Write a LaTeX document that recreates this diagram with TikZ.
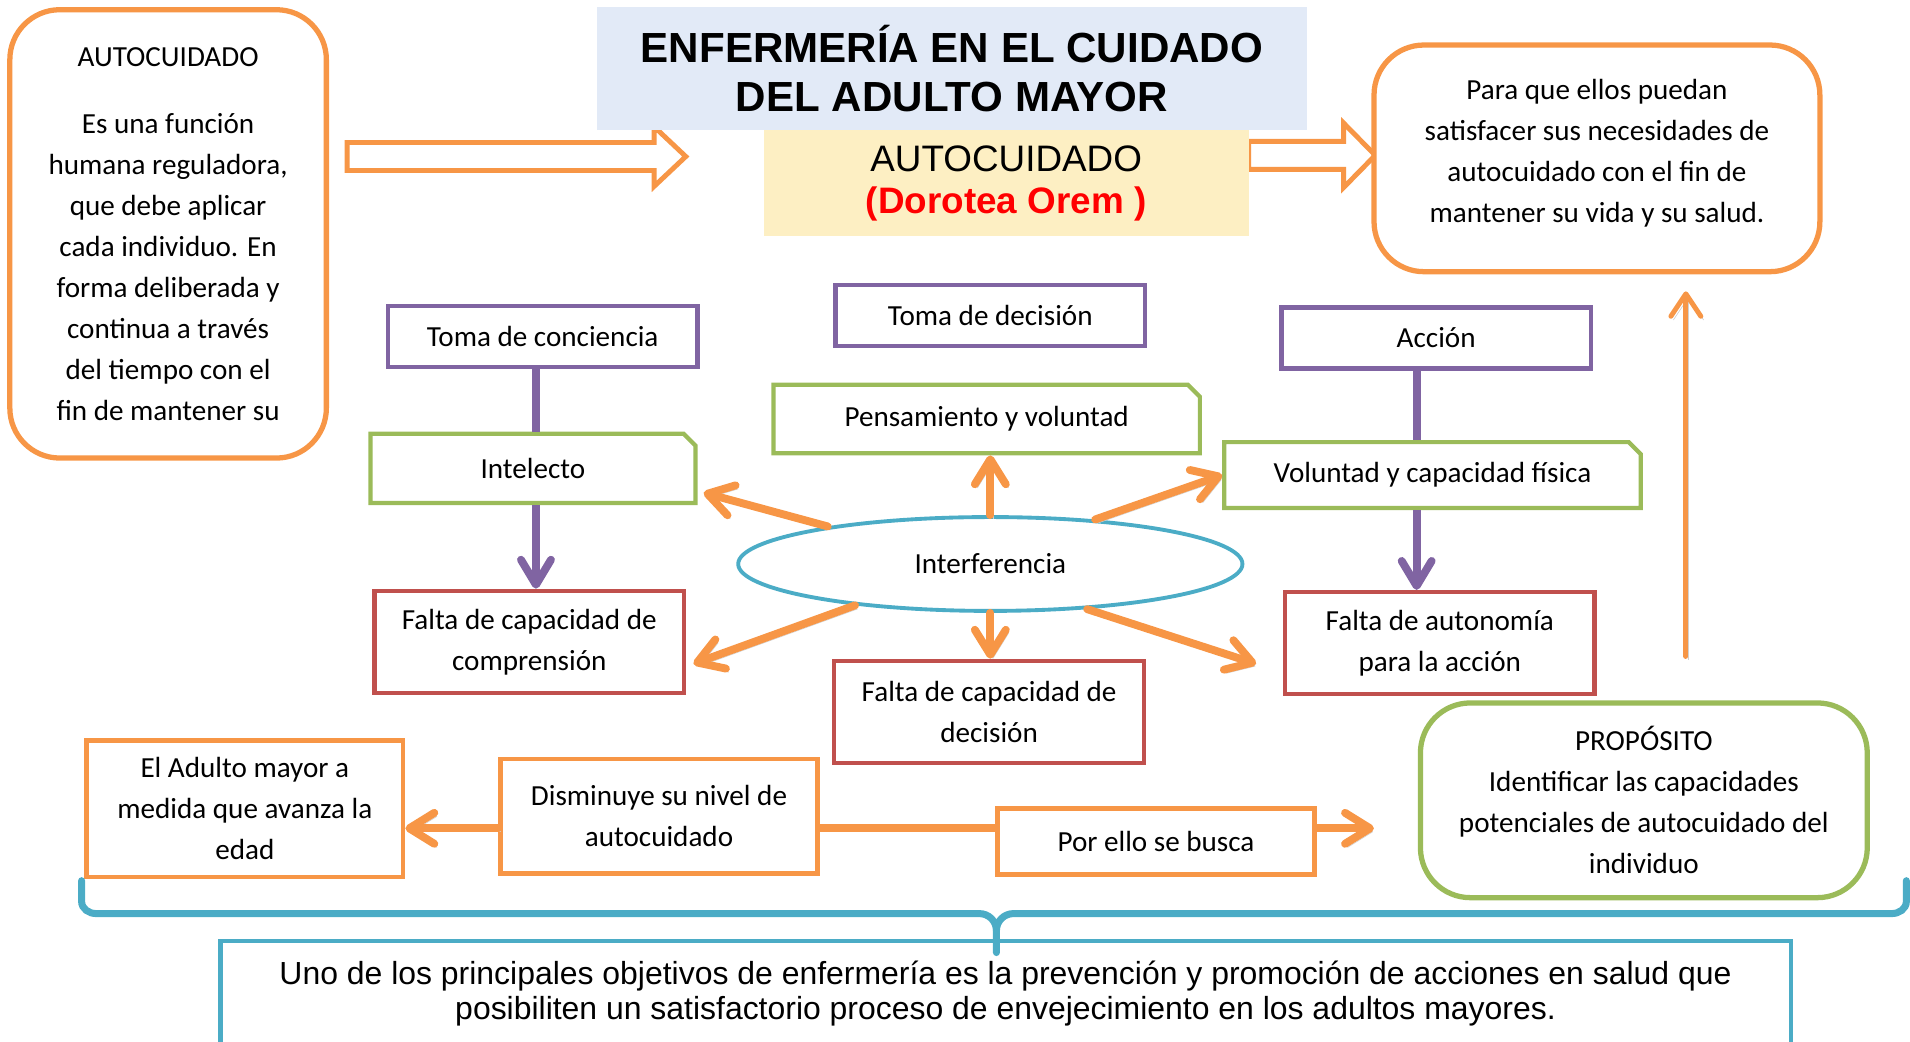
\documentclass[tikz,border=0pt]{standalone}
\usepackage{fontspec}
\setmainfont{Carlito}
\newfontfamily\arialfont{Liberation Sans}
\usetikzlibrary{shapes.geometric,shapes.misc,arrows.meta,calc}

\definecolor{naranja}{HTML}{F79646}
\definecolor{morado}{HTML}{8064A2}
\definecolor{verde}{HTML}{9BBB59}
\definecolor{rojo}{HTML}{C0504D}
\definecolor{azul}{HTML}{4BACC6}
\definecolor{fondotitulo}{HTML}{E2EAF7}
\definecolor{fondoamarillo}{HTML}{FDEFC3}
\definecolor{rojotexto}{HTML}{FF0000}

\begin{document}
\begin{tikzpicture}[x=0.0244cm, y=-0.0244cm,
	texto/.style={font=\fontsize{16.6}{23.4}\selectfont, align=center, inner sep=0pt},
	caja/.style={texto, draw, line width=2.4pt, fill=white},
	cajamorada/.style={caja, draw=morado, minimum width=6.2cm, minimum height=1.22cm},
	cajaroja/.style={caja, draw=rojo, minimum width=6.2cm, minimum height=2.05cm},
	cajanaranja/.style={caja, draw=naranja, line width=2.6pt, minimum width=6.34cm},
	cajaverde/.style={caja, draw=verde, chamfered rectangle, chamfered rectangle corners=north east,
		chamfered rectangle xsep=0.11cm, chamfered rectangle ysep=0.13cm},
	redonda/.style={caja, line width=3pt, rounded corners=1cm},
	sombra/.style={preaction={draw=black!18, transform canvas={shift={(1.5pt,-2pt)}}}},
	flecha/.style={sombra, draw=naranja, line width=4.5pt, line cap=round,
		-{Straight Barb[round, length=0.5cm, width=0.62cm]}},
	flechafina/.style={sombra, draw=naranja, line width=2.8pt, line cap=round,
		-{Straight Barb[round, length=0.45cm, width=0.6cm]}},
	linea/.style={draw=naranja, line width=4.5pt},
	lineamorada/.style={draw=morado, line width=4.5pt},
	flechamorada/.style={lineamorada, -{Straight Barb[round, length=0.5cm, width=0.6cm]}},
	hueca/.style={draw=naranja, line width=2.8pt, fill=white, line join=miter},
	llave/.style={draw=azul, line width=4pt, line cap=round}]
	
	\useasboundingbox (0,0) rectangle (1568,855);
	
	% Flechas huecas de la parte superior
	\draw[hueca] (285,117) -- (537,117) -- (537,104) -- (563,128.5) -- (537,153) -- (537,140) -- (285,140) -- cycle;
	\draw[hueca] (1025,116) -- (1103,116) -- (1103,101) -- (1129,127.5) -- (1103,154) -- (1103,139) -- (1025,139) -- cycle;
	
	% Titulo y recuadros superiores
	\node[fill=fondotitulo, minimum width=14.23cm, minimum height=2.46cm, align=center,
		font=\arialfont\bfseries\fontsize{24}{28}\selectfont] (titulo) at (781.5,56.5)
		{ENFERMERÍA EN EL CUIDADO\\DEL ADULTO MAYOR};
	\node[fill=fondoamarillo, minimum width=9.71cm, minimum height=2.12cm, align=center,
		font=\arialfont\fontsize{21}{24.2}\selectfont] (teoria) at (826,150.5)
		{AUTOCUIDADO\\\textcolor{rojotexto}{\bfseries (Dorotea Orem )}};
	
	\node[redonda, draw=naranja, minimum width=6.34cm, minimum height=8.98cm] (auto) at (138,192)
		{AUTOCUIDADO\\[0.52cm]Es una función\\humana reguladora,\\que debe aplicar\\cada individuo. En\\forma deliberada y\\continua a través\\del tiempo con el\\fin de mantener su};
	\node[redonda, draw=naranja, minimum width=8.93cm, minimum height=4.54cm] (fin) at (1311,130)
		{Para que ellos puedan\\satisfacer sus necesidades de\\autocuidado con el fin de\\mantener su vida y su salud.\\[-0.53cm]\mbox{}};
	
	% Capacidades
	\node[cajamorada] (tconc) at (445.5,276) {Toma de conciencia};
	\node[cajamorada] (tdeci) at (813,259) {Toma de decisión};
	\node[cajamorada] (accion) at (1179,277.5) {Acción};
	
	\node[cajaverde, minimum width=6.51cm, minimum height=1.39cm] (intel) at (437.5,384.5) {Intelecto};
	\node[cajaverde, minimum width=8.54cm, minimum height=1.37cm] (pens) at (810,344) {Pensamiento y voluntad};
	\node[cajaverde, minimum width=8.34cm, minimum height=1.32cm] (volun) at (1176,390) {Voluntad y capacidad física};
	
	\node[cajaroja] (compr) at (434.5,527) {Falta de capacidad de\\comprensión};
	\node[cajaroja] (deci) at (812,584.5) {Falta de capacidad de\\decisión};
	\node[cajaroja] (auton) at (1182,528) {Falta de autonomía\\para la acción};
	
	% Lineas moradas
	\coordinate (colizq) at (440,0);
	\coordinate (colder) at (1163,0);
	\draw[lineamorada] (colizq |- tconc.south) -- (colizq |- intel.north);
	\draw[flechamorada] (colizq |- intel.south) -- (colizq |- compr.north);
	\draw[lineamorada] (colder |- accion.south) -- (colder |- volun.north);
	\draw[flechamorada] (colder |- volun.south) -- (colder |- auton.north);
	
	% Interferencia
	\node[texto, ellipse, draw=azul, line width=2.2pt, fill=white, minimum width=10.1cm, minimum height=1.88cm] (inter) at (813,463) {Interferencia};
	\draw[flecha] (inter.167) -- ([shift={(5,20)}]intel.east);
	\draw[flecha] (inter.north) -- (inter.north |- pens.south);
	\draw[flecha] (inter.23) -- (volun.west);
	\draw[flecha] (inter.197) -- ([shift={(6,18)}]compr.east);
	\draw[flecha] (inter.south) -- (inter.south |- deci.north);
	\draw[flecha] (inter.335) -- ([shift={(-22,17)}]auton.west);
	
	% Parte inferior
	\node[redonda, draw=verde, minimum width=8.95cm, minimum height=3.9cm] (prop) at (1349.5,657)
		{PROPÓSITO\\Identificar las capacidades\\potenciales de autocuidado del\\individuo};
	\node[cajanaranja, minimum height=2.73cm] (adulto) at (201,664) {El Adulto mayor a\\medida que avanza la\\edad};
	\node[cajanaranja, minimum height=2.29cm] (dism) at (541,670) {Disminuye su nivel de\\autocuidado};
	\node[cajanaranja, minimum height=1.32cm] (busca) at (949,691) {Por ello se busca};
	
	\coordinate (fila) at (0,680);
	\coordinate (colflecha) at (1384,0);
	\draw[flecha] (dism.west |- fila) -- (adulto.east |- fila);
	\draw[linea] (dism.east |- fila) -- (busca.west |- fila);
	\draw[flecha] (busca.east |- fila) -- ($(prop.west |- fila)+(-36,0)$);
	\draw[flechafina] ($(colflecha |- prop.north)+(0,-36)$) -- ($(colflecha |- fin.south)+(0,14)$);
	
	% Conclusion
	\node[texto, draw=azul, line width=2.4pt, minimum width=31.45cm, minimum height=2.1cm,
		font=\arialfont\fontsize{18.2}{20.2}\selectfont] (concl) at (825.5,815.5)
		{Uno de los principales objetivos de enfermería es la prevención y promoción de acciones en salud que\\posibiliten un satisfactorio proceso de envejecimiento en los adultos mayores.};
	\draw[llave] (67,723) -- (67,740) to[out=-90,in=180] (79,750) -- (804,750) to[out=0,in=90] (818,764) -- (818,782);
	\draw[llave] (818,764) to[out=90,in=180] (832,750) -- (1553,750) to[out=0,in=-90] (1565,740) -- (1565,723);
\end{tikzpicture}
\end{document}
